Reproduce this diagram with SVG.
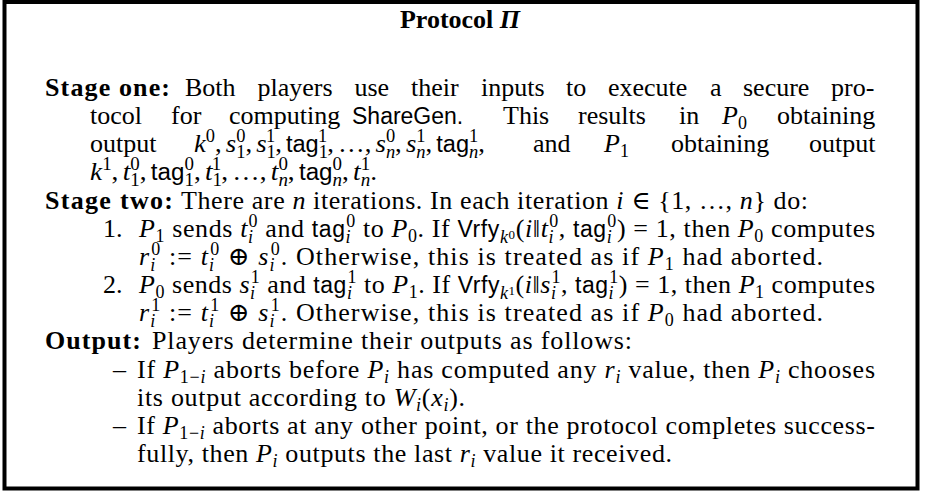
<svg xmlns="http://www.w3.org/2000/svg" width="926" height="491" viewBox="0 0 926 491">
<style>
text { font-family: "Liberation Serif", "Times New Roman", "DejaVu Serif", serif; font-size: 26px; fill: #000; }
.b { font-weight: bold; }
.i { font-style: italic; }
.sf { font-family: "Liberation Sans", Arial, sans-serif; font-size: 23px; font-style: normal; }
.s { font-size: 18px; }
.ss { font-size: 13px; }
.frame { fill: #fff; stroke: #000; stroke-width: 4; }
</style>
<rect width="926" height="491" fill="#fff"/>
<g id="frame"><rect class="frame" x="4.5" y="2" width="913" height="486.5"/></g>
<g id="title">
<text x="460" y="28" text-anchor="middle" class="b">Protocol <tspan class="i">Π</tspan></text>
</g>
<g id="stage-one">
<text x="45" y="96" class="b" textLength="125" lengthAdjust="spacing">Stage one:</text>
<text y="96"><tspan x="185">Both</tspan><tspan x="257.5">players</tspan><tspan x="354.5">use</tspan><tspan x="411">their</tspan><tspan x="481">inputs</tspan><tspan x="566">to</tspan><tspan x="608">execute</tspan><tspan x="710">a</tspan><tspan x="743">secure</tspan><tspan x="831">pro-</tspan></text>
<text y="124"><tspan x="90">tocol</tspan><tspan x="171">for</tspan><tspan x="229">computing</tspan><tspan x="352" class="sf">ShareGen.</tspan><tspan x="503">This</tspan><tspan x="578">results</tspan><tspan x="679">in</tspan><tspan x="722" class="i">P</tspan><tspan class="s" dy="5">0</tspan><tspan x="777" dy="-5">obtaining</tspan></text>
<text y="152"><tspan x="90">output</tspan></text>
<text x="194" y="152" textLength="291" lengthAdjust="spacingAndGlyphs"><tspan class="i">k</tspan><tspan class="s" dy="-10">0</tspan><tspan dy="10">,</tspan><tspan class="i" dx="4">s</tspan><tspan class="s" dy="6">1</tspan><tspan class="s" dx="-9" dy="-16">0</tspan><tspan dy="10">,</tspan><tspan class="i" dx="4">s</tspan><tspan class="s" dy="6">1</tspan><tspan class="s" dx="-9" dy="-16">1</tspan><tspan dy="10">,</tspan><tspan class="sf" dx="4">tag</tspan><tspan class="s" dy="6">1</tspan><tspan class="s" dx="-9" dy="-16">1</tspan><tspan dy="10">,</tspan><tspan dx="4">…,</tspan><tspan class="i" dx="4">s</tspan><tspan class="s i" dy="6">n</tspan><tspan class="s" dx="-9" dy="-16">0</tspan><tspan dy="10">,</tspan><tspan class="i" dx="4">s</tspan><tspan class="s i" dy="6">n</tspan><tspan class="s" dx="-9" dy="-16">1</tspan><tspan dy="10">,</tspan><tspan class="sf" dx="4">tag</tspan><tspan class="s i" dy="6">n</tspan><tspan class="s" dx="-9" dy="-16">1</tspan><tspan dy="10">,</tspan></text>
<text y="152"><tspan x="533">and</tspan><tspan x="604" class="i">P</tspan><tspan class="s" dy="5">1</tspan><tspan x="671" dy="-5">obtaining</tspan><tspan x="809">output</tspan></text>
<text x="90" y="180" textLength="287" lengthAdjust="spacingAndGlyphs"><tspan class="i">k</tspan><tspan class="s" dy="-10">1</tspan><tspan dy="10">,</tspan><tspan class="i" dx="4">t</tspan><tspan class="s" dy="6">1</tspan><tspan class="s" dx="-9" dy="-16">0</tspan><tspan dy="10">,</tspan><tspan class="sf" dx="4">tag</tspan><tspan class="s" dy="6">1</tspan><tspan class="s" dx="-9" dy="-16">0</tspan><tspan dy="10">,</tspan><tspan class="i" dx="4">t</tspan><tspan class="s" dy="6">1</tspan><tspan class="s" dx="-9" dy="-16">1</tspan><tspan dy="10">,</tspan><tspan dx="4">…,</tspan><tspan class="i" dx="4">t</tspan><tspan class="s i" dy="6">n</tspan><tspan class="s" dx="-9" dy="-16">0</tspan><tspan dy="10">,</tspan><tspan class="sf" dx="4">tag</tspan><tspan class="s i" dy="6">n</tspan><tspan class="s" dx="-9" dy="-16">0</tspan><tspan dy="10">,</tspan><tspan class="i" dx="4">t</tspan><tspan class="s i" dy="6">n</tspan><tspan class="s" dx="-9" dy="-16">1</tspan><tspan dy="10">.</tspan></text>
</g>
<g id="stage-two">
<text x="45" y="209" class="b" textLength="128" lengthAdjust="spacing">Stage two:</text>
<text x="181" y="209" textLength="627" lengthAdjust="spacing">There are <tspan class="i">n</tspan> iterations. In each iteration <tspan class="i">i</tspan> ∈ {1, …, <tspan class="i">n</tspan>} do:</text>
<text x="103" y="237">1.</text>
<text x="139" y="237" textLength="736" lengthAdjust="spacing"><tspan class="i">P</tspan><tspan class="s" dy="5">1</tspan><tspan dy="-5"> sends </tspan><tspan class="i">t</tspan><tspan class="s i" dy="6">i</tspan><tspan class="s" dx="-5" dy="-16">0</tspan><tspan dy="10"> and </tspan><tspan class="sf">tag</tspan><tspan class="s i" dy="6">i</tspan><tspan class="s" dx="-5" dy="-16">0</tspan><tspan dy="10"> to </tspan><tspan class="i">P</tspan><tspan class="s" dy="5">0</tspan><tspan dy="-5">. If </tspan><tspan class="sf">Vrfy</tspan><tspan class="s i" dy="6">k</tspan><tspan class="ss" dy="-4">0</tspan><tspan dy="-2">(</tspan><tspan class="i">i</tspan><tspan>‖</tspan><tspan class="i">t</tspan><tspan class="s i" dy="6">i</tspan><tspan class="s" dx="-5" dy="-16">0</tspan><tspan dy="10">, </tspan><tspan class="sf">tag</tspan><tspan class="s i" dy="6">i</tspan><tspan class="s" dx="-5" dy="-16">0</tspan><tspan dy="10">) = 1, then </tspan><tspan class="i">P</tspan><tspan class="s" dy="5">0</tspan><tspan dy="-5"> computes</tspan></text>
<text x="139" y="265" textLength="684" lengthAdjust="spacing"><tspan class="i">r</tspan><tspan class="s i" dy="6">i</tspan><tspan class="s" dx="-5" dy="-16">0</tspan><tspan dy="10"> := </tspan><tspan class="i">t</tspan><tspan class="s i" dy="6">i</tspan><tspan class="s" dx="-5" dy="-16">0</tspan><tspan dy="10"> ⊕ </tspan><tspan class="i">s</tspan><tspan class="s i" dy="6">i</tspan><tspan class="s" dx="-5" dy="-16">0</tspan><tspan dy="10">. Otherwise, this is treated as if </tspan><tspan class="i">P</tspan><tspan class="s" dy="5">1</tspan><tspan dy="-5"> had aborted.</tspan></text>
<text x="103" y="293">2.</text>
<text x="139" y="293" textLength="736" lengthAdjust="spacing"><tspan class="i">P</tspan><tspan class="s" dy="5">0</tspan><tspan dy="-5"> sends </tspan><tspan class="i">s</tspan><tspan class="s i" dy="6">i</tspan><tspan class="s" dx="-5" dy="-16">1</tspan><tspan dy="10"> and </tspan><tspan class="sf">tag</tspan><tspan class="s i" dy="6">i</tspan><tspan class="s" dx="-5" dy="-16">1</tspan><tspan dy="10"> to </tspan><tspan class="i">P</tspan><tspan class="s" dy="5">1</tspan><tspan dy="-5">. If </tspan><tspan class="sf">Vrfy</tspan><tspan class="s i" dy="6">k</tspan><tspan class="ss" dy="-4">1</tspan><tspan dy="-2">(</tspan><tspan class="i">i</tspan><tspan>‖</tspan><tspan class="i">s</tspan><tspan class="s i" dy="6">i</tspan><tspan class="s" dx="-5" dy="-16">1</tspan><tspan dy="10">, </tspan><tspan class="sf">tag</tspan><tspan class="s i" dy="6">i</tspan><tspan class="s" dx="-5" dy="-16">1</tspan><tspan dy="10">) = 1, then </tspan><tspan class="i">P</tspan><tspan class="s" dy="5">1</tspan><tspan dy="-5"> computes</tspan></text>
<text x="139" y="321" textLength="684" lengthAdjust="spacing"><tspan class="i">r</tspan><tspan class="s i" dy="6">i</tspan><tspan class="s" dx="-5" dy="-16">1</tspan><tspan dy="10"> := </tspan><tspan class="i">t</tspan><tspan class="s i" dy="6">i</tspan><tspan class="s" dx="-5" dy="-16">1</tspan><tspan dy="10"> ⊕ </tspan><tspan class="i">s</tspan><tspan class="s i" dy="6">i</tspan><tspan class="s" dx="-5" dy="-16">1</tspan><tspan dy="10">. Otherwise, this is treated as if </tspan><tspan class="i">P</tspan><tspan class="s" dy="5">0</tspan><tspan dy="-5"> had aborted.</tspan></text>
</g>
<g id="output">
<text x="45" y="349" class="b" textLength="96" lengthAdjust="spacing">Output:</text>
<text x="152" y="349" textLength="480" lengthAdjust="spacing">Players determine their outputs as follows:</text>
<text x="113" y="378">–</text>
<text x="137" y="378" textLength="738" lengthAdjust="spacing"><tspan>If </tspan><tspan class="i">P</tspan><tspan class="s" dy="5">1−</tspan><tspan class="s i">i</tspan><tspan dy="-5"> aborts before </tspan><tspan class="i">P</tspan><tspan class="s i" dy="5">i</tspan><tspan dy="-5"> has computed any </tspan><tspan class="i">r</tspan><tspan class="s i" dy="5">i</tspan><tspan dy="-5"> value, then </tspan><tspan class="i">P</tspan><tspan class="s i" dy="5">i</tspan><tspan dy="-5"> chooses</tspan></text>
<text x="137" y="406" textLength="328" lengthAdjust="spacing"><tspan>its output according to </tspan><tspan class="i">W</tspan><tspan class="s i" dy="5">i</tspan><tspan dy="-5">(</tspan><tspan class="i">x</tspan><tspan class="s i" dy="5">i</tspan><tspan dy="-5">).</tspan></text>
<text x="113" y="434">–</text>
<text x="137" y="434" textLength="738" lengthAdjust="spacing"><tspan>If </tspan><tspan class="i">P</tspan><tspan class="s" dy="5">1−</tspan><tspan class="s i">i</tspan><tspan dy="-5"> aborts at any other point, or the protocol completes success-</tspan></text>
<text x="137" y="462" textLength="535" lengthAdjust="spacing"><tspan>fully, then </tspan><tspan class="i">P</tspan><tspan class="s i" dy="5">i</tspan><tspan dy="-5"> outputs the last </tspan><tspan class="i">r</tspan><tspan class="s i" dy="5">i</tspan><tspan dy="-5"> value it received.</tspan></text>
</g>
</svg>
